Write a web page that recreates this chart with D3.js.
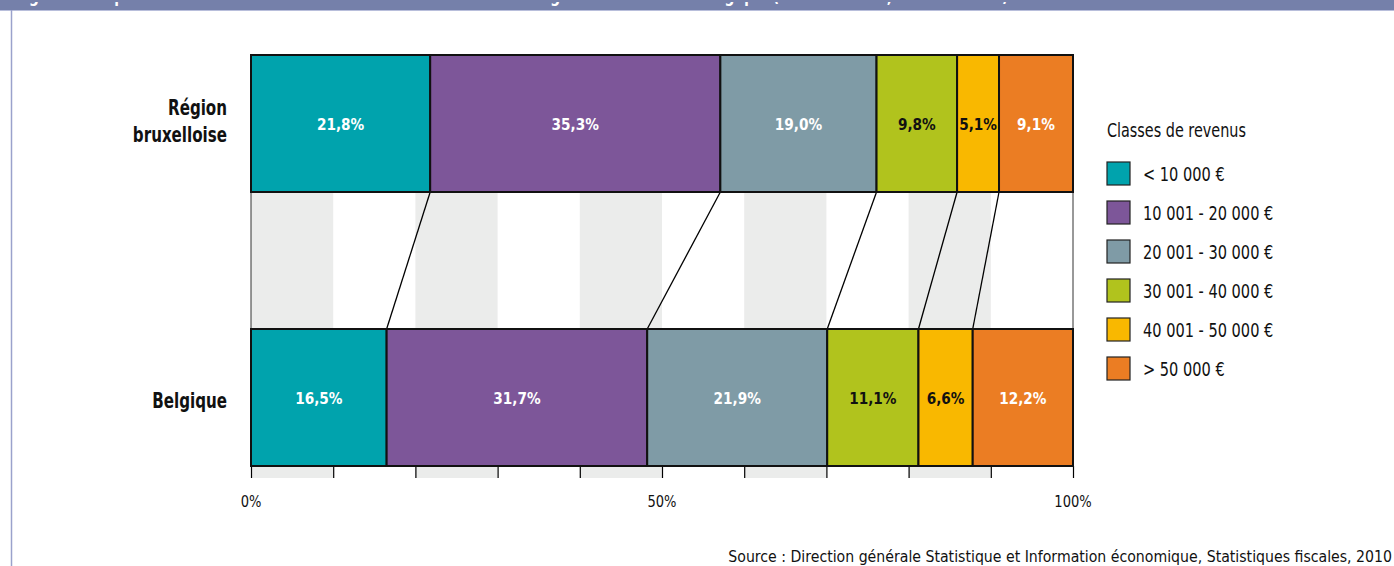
<!DOCTYPE html>
<html>
<head>
<meta charset="utf-8">
<script src="https://cdn.jsdelivr.net/npm/d3@7"></script>
<style>
  html, body { margin: 0; padding: 0; background: #fff; }
  svg { display: block; }
  text { font-family: "DejaVu Sans Condensed", "Liberation Sans", sans-serif; }
</style>
</head>
<body>
<svg id="chart" width="1394" height="566"></svg>
<script>
// Income classes and their colours
const classes = ["< 10 000 €", "10 001 - 20 000 €", "20 001 - 30 000 €", "30 001 - 40 000 €", "40 001 - 50 000 €", "> 50 000 €"];
const colors = ["#00a3ad", "#7d5699", "#7f9ba6", "#b1c31d", "#f9b800", "#eb7d23"];
const darkLabel = [false, false, false, true, true, false];

// Regions (rows) and shares per class, in %
const regions = ["Région bruxelloise", "Belgique"];
const brusselsShares = [21.8, 35.3, 19.0, 9.8, 5.1, 9.1];
const belgiumShares = [16.5, 31.7, 21.9, 11.1, 6.6, 12.2];

// Axis tick labels
const axisTicks = [0, 50, 100];

const title = "Figure 5 : Répartition des déclarations selon la classe de revenu : Région bruxelloise et Belgique (exercice 2010, revenus 2009)";
const legendTitle = "Classes de revenus";
const source = "Source : Direction générale Statistique et Information économique, Statistiques fiscales, 2010";

const svg = d3.select("#chart");

// Narrowed text: the font is squeezed horizontally around its anchor point
function narrowText(sel, px, py, sx) {
  return sel.append("text").attr("transform", `translate(${px},${py}) scale(${sx},1)`);
}

// Header band and frame line
svg.append("rect").attr("x", 0).attr("y", 0).attr("width", 1394).attr("height", 10).attr("fill", "#7580aa");
svg.append("line").attr("x1", 0).attr("x2", 1394).attr("y1", 10.5).attr("y2", 10.5).attr("stroke", "#b8bedb").attr("stroke-width", 1);
svg.append("line").attr("x1", 11.5).attr("x2", 11.5).attr("y1", 10).attr("y2", 566).attr("stroke", "#9aa2cc").attr("stroke-width", 1.5);
svg.append("defs").append("clipPath").attr("id", "hdr")
  .append("rect").attr("x", 0).attr("y", 0).attr("width", 1394).attr("height", 10);
narrowText(svg, 15, 2, 0.85).attr("clip-path", "url(#hdr)")
  .attr("fill", "#fff").attr("font-weight", "bold").attr("font-size", 18)
  .text(title);

// Scales
const x = d3.scaleLinear().domain([0, 100]).range([251, 1073]).clamp(true);
const bandH = 137;
const rowTop = { "Région bruxelloise": 55, "Belgique": 329 };

// Alternating background columns (every 10 %)
const cols = d3.range(0, 100, 20);
const gapTop = rowTop["Région bruxelloise"] + bandH, gapBot = rowTop["Belgique"];
const bg = svg.append("g");
cols.forEach(c => {
  bg.append("rect").attr("x", x(c)).attr("y", gapTop).attr("width", x(c + 10) - x(c)).attr("height", gapBot - gapTop).attr("fill", "#ebeceb");
  bg.append("rect").attr("x", x(c)).attr("y", gapBot + bandH).attr("width", x(c + 10) - x(c)).attr("height", 12).attr("fill", "#ebeceb");
});

// Axis ticks below the lower bar
const axis = d3.axisBottom(x).tickValues(d3.range(0, 101, 10)).tickSize(12).tickFormat("");
const axG = svg.append("g").attr("transform", `translate(0,${gapBot + bandH})`).call(axis);
axG.select(".domain").remove();
axG.selectAll(".tick line").attr("stroke", "#000").attr("stroke-width", 1.2);

const tickLab = svg.append("g");
axisTicks.forEach(d => {
  narrowText(tickLab, x(d), 507, 0.88)
    .attr("text-anchor", "middle").attr("font-size", 16.5).attr("fill", "#111")
    .text(d + "%");
});

// Side borders of the gap
[0, 100].forEach(v => {
  svg.append("line").attr("x1", x(v)).attr("x2", x(v)).attr("y1", gapTop).attr("y2", gapBot)
    .attr("stroke", "#333").attr("stroke-width", 1);
});

// Stacks
const series = [brusselsShares, belgiumShares];
const cum = series.map(s => { let a = 0; return s.map(v => { const x0 = a; a += v; return [x0, a]; }); });

// Connectors between boundaries of the two bars
const conn = svg.append("g");
for (let i = 0; i < classes.length - 1; i++) {
  conn.append("line")
    .attr("x1", x(cum[0][i][1])).attr("y1", gapTop)
    .attr("x2", x(cum[1][i][1])).attr("y2", gapBot)
    .attr("stroke", "#000").attr("stroke-width", 1.3);
}

regions.forEach((r, ri) => {
  const g = svg.append("g");
  const top = rowTop[r];
  g.selectAll("rect").data(series[ri]).join("rect")
    .attr("x", (d, i) => x(cum[ri][i][0]))
    .attr("y", top)
    .attr("width", (d, i) => x(cum[ri][i][1]) - x(cum[ri][i][0]))
    .attr("height", bandH)
    .attr("fill", (d, i) => colors[i])
    .attr("stroke", "#111").attr("stroke-width", 2);
  series[ri].forEach((d, i) => {
    narrowText(g, (x(cum[ri][i][0]) + x(cum[ri][i][1])) / 2, top + bandH / 2 + 6, 0.92)
      .attr("text-anchor", "middle").attr("font-weight", "bold").attr("font-size", 16.5)
      .attr("fill", darkLabel[i] ? "#111" : "#fff")
      .text(d.toFixed(1).replace(".", ",") + "%");
  });
});

// Row labels
const rowLab = svg.append("g").attr("font-weight", "bold").attr("font-size", 21).attr("text-anchor", "end").attr("fill", "#111");
narrowText(rowLab, 227, 115, 0.8).text("Région");
narrowText(rowLab, 227, 142, 0.8).text("bruxelloise");
narrowText(rowLab, 227, 408, 0.8).text("Belgique");

// Legend
const lg = svg.append("g").attr("transform", "translate(1107,0)");
narrowText(lg, 0, 137, 0.8).attr("font-size", 20).attr("fill", "#111").text(legendTitle);
const items = lg.selectAll("g.item").data(classes).join("g").attr("class", "item")
  .attr("transform", (d, i) => `translate(0,${162 + i * 39})`);
items.append("rect").attr("width", 23).attr("height", 23)
  .attr("fill", (d, i) => colors[i]).attr("stroke", "#222").attr("stroke-width", 1.2);
items.each(function (d) {
  narrowText(d3.select(this), 36, 19, 0.81).attr("font-size", 20).attr("fill", "#111").text(d);
});

// Source
svg.append("text").attr("x", 1392).attr("y", 562).attr("text-anchor", "end")
  .attr("font-family", "'Liberation Sans', sans-serif").attr("font-size", 15.7).attr("fill", "#111")
  .text(source);
</script>
</body>
</html>
